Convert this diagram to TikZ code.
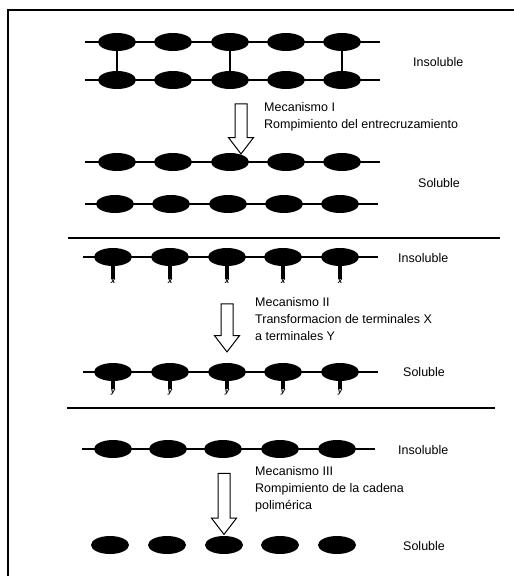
\documentclass[tikz,border=0pt]{standalone}
\usepackage{fontspec}
\setmainfont{Liberation Sans}
\usetikzlibrary{shapes.geometric, shapes.arrows, positioning}
\tikzset{
  bead/.style={ellipse, fill=black, minimum width=38pt,
    minimum height=18pt, inner sep=0pt},
  chain/.style={line width=1.8pt},
  link/.style={line width=2.4pt},
  stem/.style={line width=3.6pt},
  tag/.style={inner sep=0pt, font=\fontsize{8}{8}\selectfont\bfseries\itshape},
  downarrow/.style={single arrow, draw, line width=1pt,
    shape border rotate=270, minimum width=24pt, inner sep=5.5pt,
    single arrow head extend=6.5pt, single arrow tip angle=75},
  state/.style={anchor=west, inner sep=0pt, font=\fontsize{12.5}{15}\selectfont},
  mech/.style={anchor=north west, align=left, inner sep=0pt,
    font=\fontsize{12.5}{17}\selectfont},
  rule/.style={line width=1.2pt}
}

\begin{document}
\begin{tikzpicture}[x=1pt, y=-1pt]
  \useasboundingbox (0,0) rectangle (514,576);
  \draw[rule] (8,576) -- (8,10) -- (514,10);

  % Mechanism I: cross-linked chains
  \coordinate (r1_s) at (85,42);  \coordinate (r1_e) at (380,42);
  \coordinate (r2_s) at (85,80);  \coordinate (r2_e) at (380,80);
  \draw[chain] (r1_s) -- (r1_e);
  \draw[chain] (r2_s) -- (r2_e);
  \foreach \i/\x in {1/117, 2/173, 3/230, 4/286, 5/342} {
    \node[bead] (r1_b\i) at (\x,42) {};
    \node[bead] (r2_b\i) at (\x,80) {};
  }
  \draw[link] (r1_b1) -- (r2_b1);
  \draw[link] (r1_b3) -- (r2_b3);
  \draw[link] (r1_b5) -- (r2_b5);
  \node[state] (ins1) at (413,62) {Insoluble};

  \node[downarrow, minimum height=50pt] (arr1) at (241,125) {};
  \node[mech] (mech1) at (264,102) {Mecanismo I\\Rompimiento del entrecruzamiento};

  \coordinate (r3_s) at (85,162);  \coordinate (r3_e) at (380,162);
  \coordinate (r4_s) at (85,204);  \coordinate (r4_e) at (378,204);
  \draw[chain] (r3_s) -- (r3_e);
  \draw[chain] (r4_s) -- (r4_e);
  \foreach \i/\x in {1/117, 2/173, 3/230, 4/286, 5/342} {
    \node[bead] (r3_b\i) at (\x,162) {};
    \node[bead] (r4_b\i) at (\x-2,204) {};
  }
  \node[state] (sol1) at (418,183) {Soluble};

  \draw[rule] (68,238) -- (500,238);

  % Mechanism II: end groups X -> Y
  \coordinate (r5_s) at (83,257);  \coordinate (r5_e) at (378,257);
  \draw[chain] (r5_s) -- (r5_e);
  \foreach \i/\x in {1/113, 2/170, 3/227, 4/283, 5/340} {
    \node[bead] (r5_b\i) at (\x,257) {};
    \node[tag] (r5_x\i) at (\x,281) {x};
    \draw[stem] (r5_b\i.south) -- (r5_x\i.north);
  }
  \node[state] (ins2) at (398,258) {Insoluble};

  \node[downarrow, minimum height=48pt] (arr2) at (227,324) {};
  \node[mech] (mech2) at (255,297) {Mecanismo II\\Transformacion de terminales X\\a terminales Y};

  \coordinate (r6_s) at (83,372);  \coordinate (r6_e) at (378,372);
  \draw[chain] (r6_s) -- (r6_e);
  \foreach \i/\x in {1/113, 2/170, 3/227, 4/283, 5/340} {
    \node[bead] (r6_b\i) at (\x,372) {};
    \node[tag] (r6_y\i) at (\x,392) {y};
    \draw[stem] (r6_b\i.south) -- (r6_y\i.north);
  }
  \node[state] (sol2) at (403,372) {Soluble};

  \draw[rule] (67,408) -- (495,408);

  % Mechanism III: chain scission
  \coordinate (r7_s) at (82,449);  \coordinate (r7_e) at (375,449);
  \draw[chain] (r7_s) -- (r7_e);
  \foreach \i/\x in {1/113, 2/168, 3/223, 4/280, 5/337} {
    \node[bead] (r7_b\i) at (\x,449) {};
  }
  \node[state] (ins3) at (398,450) {Insoluble};

  \node[downarrow, minimum height=61pt] (arr3) at (224,500) {};
  \node[mech] (mech3) at (255,466) {Mecanismo III\\Rompimiento de la cadena\\polimérica};

  \foreach \i/\x in {1/110, 2/167, 3/224, 4/280, 5/337} {
    \node[bead] (r8_b\i) at (\x,545) {};
  }
  \node[state] (sol3) at (403,546) {Soluble};
\end{tikzpicture}
\end{document}
